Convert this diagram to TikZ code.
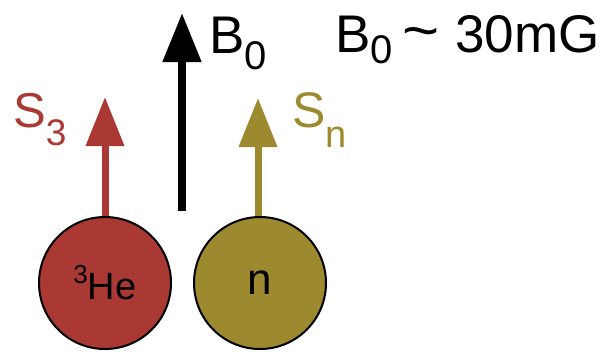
\documentclass[tikz,border=0pt]{standalone}
\usepackage{graphicx}
\usepackage{fontspec}
\setmainfont{Liberation Sans}
\usetikzlibrary{arrows.meta}
\definecolor{herd}{RGB}{170,57,51}
\definecolor{nolive}{RGB}{158,138,46}
\begin{document}
\begin{tikzpicture}[x=1pt,y=-1pt,
  ball/.style={circle,draw=black,line width=2pt,minimum size=132pt,inner sep=0pt},
  spinarrow/.style={line width=7pt,-{Triangle[length=49pt,width=37pt]}},
  lbl/.style={anchor=base west,inner sep=0pt,font=\fontsize{52}{52}\selectfont}]
\useasboundingbox (0,0) rectangle (604,354);
\node[ball,fill=herd,font=\fontsize{38}{38}\selectfont] (he) at (105,283) {\raisebox{0.42em}{\fontsize{26}{26}\selectfont 3}He};
\node[ball,fill=nolive,font=\fontsize{44}{44}\selectfont] (n) at (260,283) {n};
\coordinate (s3tip) at (105,97);
\coordinate (sntip) at (258,98);
\coordinate (b0base) at (182,211);
\coordinate (b0tip) at (182,13);
\draw[spinarrow,draw=herd,fill=herd] (he.north) -- (s3tip);
\draw[spinarrow,draw=nolive,fill=nolive] (n.north -| sntip) -- (sntip);
\draw[spinarrow,line width=8pt,draw=black,fill=black] (b0base) -- (b0tip);
\node[lbl,text=herd,font=\fontsize{49}{49}\selectfont] (s3) at (13,127) {S\raisebox{-0.37em}{\fontsize{37}{37}\selectfont 3}};
\node[lbl,text=nolive,font=\fontsize{50}{50}\selectfont] (sn) at (292,127) {S\raisebox{-0.4em}{\fontsize{38}{38}\selectfont n}};
\node[lbl,font=\fontsize{53}{53}\selectfont] (b0) at (209,53) {B\raisebox{-0.32em}{\fontsize{40}{40}\selectfont 0}};
\node[lbl,font=\fontsize{53}{53}\selectfont] (b0val) at (335,52) {B\raisebox{-0.22em}{\fontsize{40}{40}\selectfont 0}\hspace{0.18em}\raisebox{0.03em}{\scalebox{1.2}[1.1]{\char"007E}}\hspace{0.3em}30mG};
\end{tikzpicture}
\end{document}
